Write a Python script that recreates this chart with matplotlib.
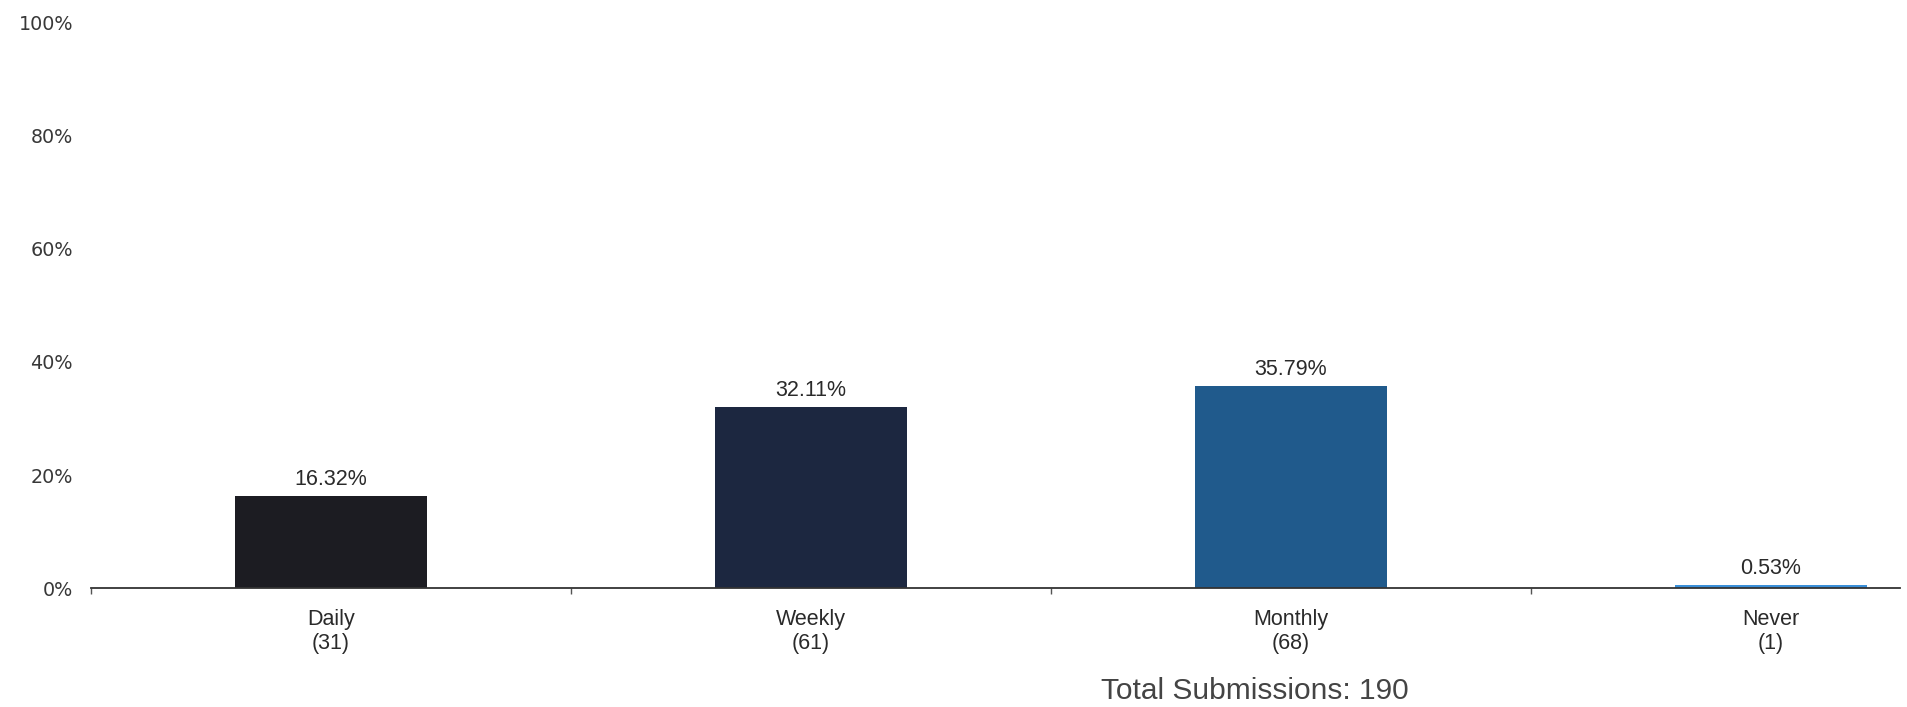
import matplotlib
matplotlib.use("Agg")
import matplotlib.pyplot as plt
from matplotlib.ticker import FixedLocator, FuncFormatter

categories = ["Daily", "Weekly", "Monthly", "Never"]
counts = [31, 61, 68, 1]
percents = [16.32, 32.11, 35.79, 0.53]
total = 190
bar_colors = ["#1c1c22", "#1c2740", "#205a8c", "#3a8fd8"]
y_ticks = [0, 20, 40, 60, 80, 100]

plt.rcParams["font.family"] = ["Liberation Sans", "DejaVu Sans"]

fig = plt.figure(figsize=(19.08, 7.07), dpi=100)
ax = fig.add_axes([0.0477, 0.1683, 0.9483, 0.7992])

x = list(range(len(categories)))
bars = ax.bar(x, percents, width=0.40, color=bar_colors, zorder=2)
for b, p in zip(bars, percents):
    ax.annotate(f"{p:.2f}%", (b.get_x() + b.get_width() / 2, b.get_height()),
                xytext=(0, 4), textcoords="offset points", ha="center", va="bottom",
                fontsize=15.5, color="#2a2a2a")

ax.set_xlim(-0.5, 3.27)
ax.set_ylim(0, 100)

# boundaries get small ticks, labels sit at the category centres
ax.xaxis.set_major_locator(FixedLocator([-0.5, 0.5, 1.5, 2.5]))
ax.xaxis.set_major_formatter(FuncFormatter(lambda v, _: ""))
ax.xaxis.set_minor_locator(FixedLocator(x))
ax.xaxis.set_minor_formatter(FuncFormatter(lambda v, i: f"{categories[i]}\n({counts[i]})"))
ax.tick_params(axis="x", which="major", length=4, width=1, color="#555555", direction="out")
ax.tick_params(axis="x", which="minor", length=0, pad=15, labelsize=15.5, labelcolor="#2a2a2a")

ax.set_yticks(y_ticks)
ax.set_yticklabels([f"{t}%" for t in y_ticks], family="DejaVu Sans")
ax.tick_params(axis="y", length=0, pad=13, labelsize=13.8, labelcolor="#383838")

for s in ["top", "right", "left"]:
    ax.spines[s].set_visible(False)
ax.spines["bottom"].set_color("#333333")
ax.spines["bottom"].set_linewidth(1.3)

fig.text(1255 / 1908, 1 - 691 / 707, f"Total Submissions: {total}", ha="center", va="center",
         fontsize=21.5, color="#444444")

fig.savefig("out.png", dpi=100, facecolor="white")
